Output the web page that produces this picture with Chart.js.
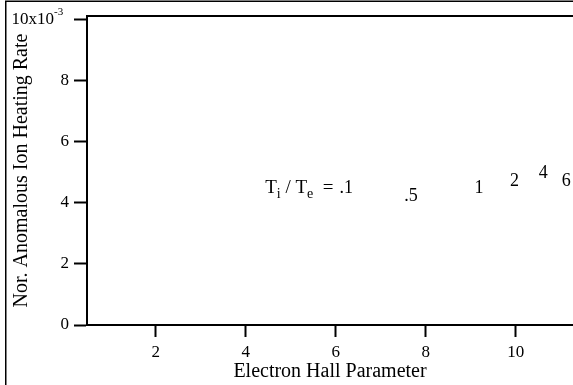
<!DOCTYPE html>
<html>
<head>
<meta charset="utf-8">
<script src="https://cdn.jsdelivr.net/npm/chart.js@4"></script>
<style>
   html, body { margin: 0; padding: 0; background: #fff; }
   #wrap { width: 573px; height: 385px; }
</style>
</head>
<body>
<div id="wrap"><canvas id="chart" width="573" height="385"></canvas></div>
<script>
// electron hall parameter vs normalised heating rate, one point per Ti/Te
const hallParam = [6.23, 7.67, 9.18, 9.97, 10.61, 11.12]
const heatingRate = [0.00448, 0.00423, 0.00448, 0.00470, 0.00497, 0.00470]
const ratioLabels = ['.1', '.5', '1', '2', '4', '6']
const xTicks = [2, 4, 6, 8, 10]
const yTicks = [0, 0.002, 0.004, 0.006, 0.008, 0.010]

const serif = '"Liberation Serif", "Times New Roman", serif'

// text markers instead of dots, plus the "Ti / Te =" lead-in
const textMarkers = {
   id: 'textMarkers',
   afterDatasetsDraw(chart) {
      const ctx = chart.ctx
      const pts = chart.getDatasetMeta(0).data
      ctx.save()
      ctx.fillStyle = '#000'
      ctx.font = '18px ' + serif
      ctx.textAlign = 'center'
      ctx.textBaseline = 'middle'
      pts.forEach((pt, i) => ctx.fillText(ratioLabels[i], pt.x, pt.y))

      const parts = [
         { t: 'T' }, { t: 'i', sub: true }, { t: ' / T' }, { t: 'e', sub: true }, { t: '  =' }
      ]
      const fontFor = p => (p.sub ? '14px ' : '19px ') + serif
      let total = 0
      parts.forEach(p => {
         ctx.font = fontFor(p)
         total += ctx.measureText(p.t).width
      })
      ctx.font = '18px ' + serif
      const firstW = ctx.measureText(ratioLabels[0]).width
      let x = pts[0].x - firstW / 2 - 6 - total
      ctx.textAlign = 'left'
      parts.forEach(p => {
         ctx.font = fontFor(p)
         ctx.fillText(p.t, x, pts[0].y + (p.sub ? 6 : 0))
         x += ctx.measureText(p.t).width
      })
      ctx.restore()
   }
}

// outer frame, top edge of the plot and the 10x10^-3 label
const frame = {
   id: 'frame',
   afterDraw(chart) {
      const ctx = chart.ctx
      const area = chart.chartArea
      const yScale = chart.scales.y
      ctx.save()
      ctx.strokeStyle = '#000'
      ctx.lineWidth = 1.5
      ctx.beginPath()
      ctx.moveTo(5.75, 385)
      ctx.lineTo(5.75, 1.25)
      ctx.lineTo(573, 1.25)
      ctx.stroke()

      ctx.lineWidth = 2
      ctx.beginPath()
      ctx.moveTo(area.left - 1, area.top)
      ctx.lineTo(area.right, area.top)
      ctx.stroke()

      const yTop = yScale.getPixelForValue(0.01)
      ctx.fillStyle = '#000'
      ctx.font = '17px ' + serif
      ctx.textAlign = 'right'
      ctx.textBaseline = 'middle'
      ctx.fillText('10x10', 54, yTop)
      ctx.font = '11px ' + serif
      ctx.textAlign = 'left'
      ctx.fillText('-3', 54, yTop - 8)
      ctx.restore()
   }
}

new Chart(document.getElementById('chart'), {
   type: 'scatter',
   data: {
      datasets: [{
         data: hallParam.map((x, i) => ({ x: x, y: heatingRate[i] })),
         pointRadius: 0,
         showLine: false
      }]
   },
   options: {
      responsive: false,
      animation: false,
      layout: { padding: { top: 16, right: 0, left: 0, bottom: 0 } },
      plugins: {
         legend: { display: false },
         tooltip: { enabled: false }
      },
      scales: {
         x: {
            type: 'linear',
            min: 0.47,
            max: 11.27,
            afterBuildTicks: s => { s.ticks = xTicks.map(v => ({ value: v })) },
            afterFit: s => { s.height = 60 },
            border: { display: true, color: '#000', width: 2 },
            grid: { drawOnChartArea: false, drawTicks: true, tickLength: 12, tickWidth: 2, tickColor: '#000', color: '#000' },
            ticks: { color: '#000', font: { family: serif, size: 17 }, padding: 5, maxRotation: 0, autoSkip: false },
            title: {
               display: true,
               text: 'Electron Hall Parameter',
               color: '#000',
               font: { family: serif, size: 20 },
               padding: { top: 0, bottom: 1 }
            }
         },
         y: {
            min: 0,
            max: 0.01013,
            afterBuildTicks: s => { s.ticks = yTicks.map(v => ({ value: v })) },
            afterFit: s => { s.width = 87 },
            border: { display: true, color: '#000', width: 2 },
            grid: { drawOnChartArea: false, drawTicks: true, tickLength: 13, tickWidth: 2, tickColor: '#000', color: '#000' },
            ticks: {
               color: '#000',
               font: { family: serif, size: 17 },
               padding: 5,
               callback: v => {
                  const n = Math.round(v * 1000)
                  return n === 10 ? '' : String(n)
               }
            },
            title: {
               display: true,
               text: 'Nor. Anomalous Ion Heating Rate',
               color: '#000',
               font: { family: serif, size: 20 },
               padding: { top: 10, bottom: 0 }
            }
         }
      }
   },
   plugins: [textMarkers, frame]
})
</script>
</body>
</html>
